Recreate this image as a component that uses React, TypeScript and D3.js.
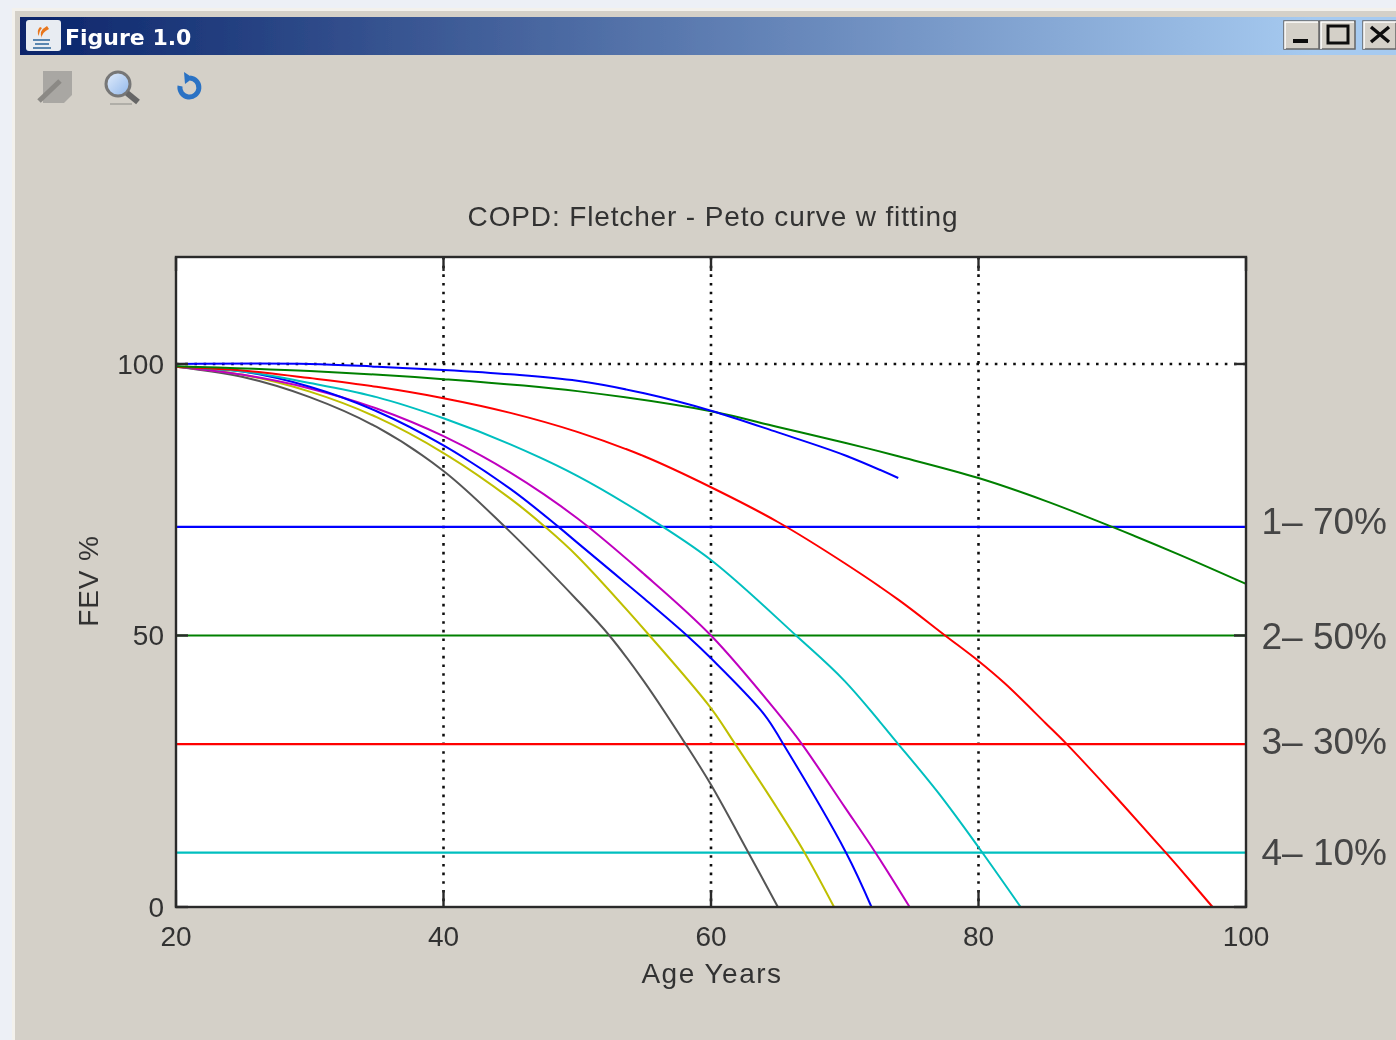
import React, { useEffect, useRef } from "react";
import * as d3 from "d3";

const W = 1396, H = 1040;
const TITLE = "COPD: Fletcher - Peto curve w fitting";
const X_LABEL = "Age Years";
const Y_LABEL = "FEV %";
const X_TICKS = [20, 40, 60, 80, 100];
const Y_TICKS = [0, 50, 100];

const topBlueAge = [20, 30, 35, 40, 45, 50, 55, 60, 65, 70, 74];
const topBlueFev = [100, 100, 99.5, 98.9, 98.1, 96.9, 94.6, 91.4, 87.4, 83.2, 79];
const greenAge = [20, 30, 40, 50, 60, 65, 70, 74, 80, 85, 90, 95, 100];
const greenFev = [99.6, 98.7, 97.2, 95, 91.3, 88.4, 85.5, 83, 79, 74.8, 70, 64.9, 59.5];
const redAge = [20, 25, 30, 35, 40, 45, 50, 55, 60, 65, 70, 74, 77.5, 80, 82, 85, 86.6, 90, 94, 95, 97.5];
const redFev = [99.5, 98.8, 97.4, 95.8, 93.7, 91, 87.5, 83, 77.3, 70.9, 63.3, 56.6, 50, 45.3, 41.1, 33.9, 30, 21, 10, 7.2, 0];
const cyanAge = [20, 25, 30, 35, 40, 45, 50, 55, 60, 66.36, 70, 74, 77, 80, 83.15];
const cyanFev = [99.5, 98.6, 96.5, 93.9, 90, 85.2, 79.4, 72.2, 63.9, 50, 41.6, 30, 21, 11, 0];
const magentaAge = [20, 25, 30, 35, 40, 45, 50, 55, 60, 65, 66.8, 70, 72.3, 74.85];
const magentaFev = [99.5, 98, 95.5, 91.8, 86.7, 80, 71.6, 61.3, 50, 35.7, 30, 18.4, 10, 0];
const blueAge = [20, 25, 30, 35, 40, 45, 48.6, 50, 55, 58.2, 60, 64, 65.4, 70.1, 72];
const blueFev = [99.5, 98.6, 95.8, 91.3, 85, 77, 70, 67.1, 56.8, 50, 45.8, 35.4, 30, 10, 0];
const yellowAge = [20, 25, 30, 35, 40, 45, 47.6, 50, 55.4, 60, 61.7, 65, 67, 69.2];
const yellowFev = [99.5, 98, 94.9, 90.2, 83.6, 75.2, 70, 64.6, 50, 36.6, 30.4, 18, 10, 0];
const grayAge = [20, 25, 30, 35, 40, 44.6, 50, 52.4, 55, 58.1, 60, 62.8, 65];
const grayFev = [99.5, 97.6, 93.9, 88.4, 80.3, 70, 56.5, 50, 41.5, 30, 22.5, 10, 0];

const thresholdValues = [70, 50, 30, 10];
const thresholdLabels = ["1\u2013 70%", "2\u2013 50%", "3\u2013 30%", "4\u2013 10%"];
const thresholdColors = ["#0000ff", "#008000", "#ff0000", "#00bfbf"];

const curves = [
  { age: grayAge, fev: grayFev, color: "#555555" },
  { age: yellowAge, fev: yellowFev, color: "#bfbf00" },
  { age: magentaAge, fev: magentaFev, color: "#bf00bf" },
  { age: blueAge, fev: blueFev, color: "#0000ff" },
  { age: cyanAge, fev: cyanFev, color: "#00bfbf" },
  { age: redAge, fev: redFev, color: "#ff0000" },
  { age: greenAge, fev: greenFev, color: "#008000" },
  { age: topBlueAge, fev: topBlueFev, color: "#0000ff" },
];

const PLOT = { left: 176, right: 1246, top: 257, bottom: 907 };
const AXIS_FONT = "'Liberation Sans', Arial, sans-serif";
const INK = "#2a2a2a";

export default function App() {
  const ref = useRef<SVGGElement | null>(null);

  useEffect(() => {
    const g = d3.select(ref.current!);
    g.selectAll("*").remove();
    const x = d3.scaleLinear().domain([20, 100]).range([PLOT.left, PLOT.right]);
    const y = d3.scaleLinear().domain([0, 119.7]).range([PLOT.bottom, PLOT.top]);

    g.append("rect")
      .attr("x", PLOT.left).attr("y", PLOT.top)
      .attr("width", PLOT.right - PLOT.left).attr("height", PLOT.bottom - PLOT.top)
      .attr("fill", "#fff");

    // dotted grid
    X_TICKS.slice(1, -1).forEach((t) => {
      g.append("line").attr("x1", x(t)).attr("x2", x(t)).attr("y1", PLOT.top).attr("y2", PLOT.bottom)
        .attr("stroke", "#111").attr("stroke-width", 2.6).attr("stroke-dasharray", "2.6 6.07");
    });
    g.append("line").attr("x1", PLOT.left).attr("x2", PLOT.right).attr("y1", y(100)).attr("y2", y(100))
      .attr("stroke", "#111").attr("stroke-width", 2.6).attr("stroke-dasharray", "2.6 6.6");

    // thresholds
    thresholdValues.forEach((v, i) => {
      g.append("line").attr("x1", PLOT.left).attr("x2", PLOT.right).attr("y1", y(v)).attr("y2", y(v))
        .attr("stroke", thresholdColors[i]).attr("stroke-width", 2.2);
      g.append("text").attr("x", 1387).attr("y", y(v) + [7, 14, 10, 12][i])
        .attr("text-anchor", "end").attr("fill", "#444")
        .attr("font-family", AXIS_FONT).attr("font-size", 37)
        .text(thresholdLabels[i]);
    });

    // curves
    const lineFor = d3.line<[number, number]>()
      .x((d) => x(d[0])).y((d) => y(d[1])).curve(d3.curveCatmullRom.alpha(0.5));
    curves.forEach((c) => {
      const pts = c.age.map((a, i) => [a, c.fev[i]] as [number, number]);
      g.append("path").attr("d", lineFor(pts)).attr("fill", "none")
        .attr("stroke", c.color).attr("stroke-width", 2);
    });

    // frame and ticks
    g.append("rect")
      .attr("x", PLOT.left).attr("y", PLOT.top)
      .attr("width", PLOT.right - PLOT.left).attr("height", PLOT.bottom - PLOT.top)
      .attr("fill", "none").attr("stroke", INK).attr("stroke-width", 2.4);
    X_TICKS.forEach((t) => {
      [[PLOT.bottom, PLOT.bottom - 17], [PLOT.top, PLOT.top + 14]].forEach(([a, b]) =>
        g.append("line").attr("x1", x(t)).attr("x2", x(t)).attr("y1", a).attr("y2", b)
          .attr("stroke", INK).attr("stroke-width", 2.4));
      g.append("text").attr("x", x(t)).attr("y", 946).attr("text-anchor", "middle")
        .attr("font-family", AXIS_FONT).attr("font-size", 28).attr("fill", "#333")
        .text(t);
    });
    Y_TICKS.forEach((t) => {
      [[PLOT.left, PLOT.left + 12], [PLOT.right, PLOT.right - 12]].forEach(([a, b]) =>
        g.append("line").attr("x1", a).attr("x2", b).attr("y1", y(t)).attr("y2", y(t))
          .attr("stroke", INK).attr("stroke-width", 2.4));
      g.append("text").attr("x", 164).attr("y", y(t) + 10).attr("text-anchor", "end")
        .attr("font-family", AXIS_FONT).attr("font-size", 28).attr("fill", "#333")
        .text(t);
    });

    // titles
    g.append("text").attr("x", 713).attr("y", 226).attr("text-anchor", "middle")
      .attr("font-family", AXIS_FONT).attr("font-size", 28).attr("fill", "#333").attr("letter-spacing", 0.86)
      .text(TITLE);
    g.append("text").attr("x", 712).attr("y", 983).attr("text-anchor", "middle")
      .attr("font-family", AXIS_FONT).attr("font-size", 28).attr("fill", "#333").attr("letter-spacing", 1.5)
      .text(X_LABEL);
    g.append("text").attr("transform", "translate(98,581) rotate(-90)").attr("text-anchor", "middle")
      .attr("font-family", AXIS_FONT).attr("font-size", 28).attr("fill", "#333").attr("letter-spacing", 0.9)
      .text(Y_LABEL);
  }, []);

  return (
    <svg width={W} height={H} style={{ position: "absolute", left: 0, top: 0 }}>
      <defs>
        <linearGradient id="titlebar" x1="0" x2="1" y1="0" y2="0">
          <stop offset="0" stopColor="#0a246a" />
          <stop offset="0.94" stopColor="#a6caf0" />
          <stop offset="1" stopColor="#a6caf0" />
        </linearGradient>
        <linearGradient id="lens" x1="0" x2="1" y1="0" y2="1">
          <stop offset="0" stopColor="#e4eefc" />
          <stop offset="1" stopColor="#8fb6ea" />
        </linearGradient>
        <filter id="soft" x="-5%" y="-5%" width="110%" height="110%">
          <feGaussianBlur stdDeviation="0.6" />
        </filter>
      </defs>
      <rect width={W} height={H} fill="#edf0f6" />
      <g filter="url(#soft)">
        {/* window */}
        <rect x={12} y={8} width={1384} height={1032} fill="#f3f1ec" />
        <rect x={15} y={11} width={1381} height={1029} fill="#d4d0c8" />
        <rect x={20} y={17} width={1376} height={38} fill="url(#titlebar)" />
        {/* java icon */}
        <rect x={26} y={20} width={35} height={31} rx={3} fill="#e8ecf2" />
        <path d="M47 26 q-9 5 -5 12 q-1 -5 7 -9 Z M40 27 q-4 4 -1 9 q0 -5 3 -8 Z" fill="#e8761e" />
        <path d="M33 40 h17 M35 44 h14 M33 48 h18" stroke="#5a86b0" strokeWidth={2} fill="none" />
        <text x={65} y={45} fill="#fff" fontFamily="'DejaVu Sans', sans-serif" fontWeight="bold" fontSize={22}>Figure 1.0</text>
        {/* window buttons */}
        <g>
          {[1284, 1320, 1363].map((bx, i) => (
            <g key={bx}>
              <rect x={bx} y={21} width={i === 2 ? 33 : 35} height={28} fill="#d4d0c8" stroke="#666" strokeWidth={1.5} />
              <path d={`M${bx + 1} 49 V22 H${bx + 34}`} stroke="#fff" strokeWidth={1.5} fill="none" />
            </g>
          ))}
          <rect x={1293} y={39} width={15} height={4} fill="#111" />
          <rect x={1328} y={26} width={20} height={17} fill="none" stroke="#111" strokeWidth={3} />
          <path d="M1371 27 L1389 42 M1389 27 L1371 42" stroke="#111" strokeWidth={3.5} />
        </g>
        {/* toolbar */}
        <path d="M43 71 H72 V95 L64 103 H43 Z" fill="#a9a7a3" />
        <path d="M39 101 L60 81" stroke="#8b8985" strokeWidth={5} />
        <circle cx={118} cy={84} r={12} fill="url(#lens)" stroke="#777" strokeWidth={3} />
        <path d="M127 93 L138 102" stroke="#666" strokeWidth={6} />
        <path d="M110 104 H132" stroke="#b0aea8" strokeWidth={2} />
        <path d="M180 86 A9.5 9.5 0 1 0 190 78" fill="none" stroke="#2a72c4" strokeWidth={5} />
        <path d="M184 72 L193 78 L185 84 Z" fill="#2a72c4" />
      </g>
      <g ref={ref} filter="url(#soft)" />
    </svg>
  );
}
